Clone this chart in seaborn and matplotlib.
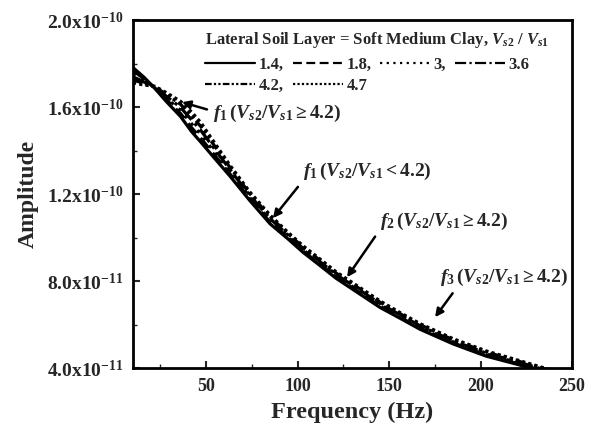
import matplotlib
matplotlib.use("Agg")
import matplotlib.pyplot as plt
from matplotlib.ticker import FuncFormatter, AutoMinorLocator
from matplotlib.lines import Line2D
import seaborn as sns
import numpy as np
import pandas as pd

# ---- data (amplitude in units of 1e-10) ----
freq = [10, 16, 22, 28, 36, 42, 47, 55, 63, 74, 85, 95, 103, 112, 121, 133, 145, 156, 167, 185, 203, 221, 231, 240]
amp_14 = [1.782, 1.738, 1.686, 1.628, 1.557, 1.488, 1.440, 1.361, 1.283, 1.169, 1.063, 0.992, 0.932, 0.873, 0.813, 0.746, 0.679, 0.629, 0.578, 0.511, 0.455, 0.415, 0.390, 0.368]
amp_18 = [1.768, 1.731, 1.688, 1.636, 1.571, 1.506, 1.458, 1.375, 1.293, 1.177, 1.071, 0.998, 0.938, 0.879, 0.819, 0.752, 0.685, 0.634, 0.583, 0.516, 0.460, 0.419, 0.394, 0.372]
amp_30 = [1.754, 1.724, 1.690, 1.644, 1.585, 1.524, 1.476, 1.389, 1.303, 1.185, 1.079, 1.004, 0.944, 0.885, 0.825, 0.758, 0.691, 0.639, 0.588, 0.521, 0.465, 0.423, 0.398, 0.376]
amp_36 = [1.740, 1.716, 1.692, 1.652, 1.599, 1.542, 1.494, 1.403, 1.313, 1.193, 1.087, 1.010, 0.950, 0.891, 0.831, 0.764, 0.697, 0.645, 0.594, 0.525, 0.469, 0.427, 0.402, 0.380]
amp_42 = [1.726, 1.709, 1.694, 1.660, 1.613, 1.560, 1.512, 1.417, 1.323, 1.201, 1.095, 1.016, 0.956, 0.897, 0.837, 0.770, 0.703, 0.650, 0.599, 0.530, 0.474, 0.431, 0.406, 0.384]
amp_47 = [1.712, 1.702, 1.696, 1.668, 1.627, 1.578, 1.530, 1.431, 1.333, 1.209, 1.103, 1.022, 0.962, 0.903, 0.843, 0.776, 0.709, 0.655, 0.604, 0.535, 0.479, 0.435, 0.410, 0.388]
series_labels = ["1.4,", "1.8,", "3,", "3.6", "4.2,", "4.7"]
y_ticks = [4e-11, 8e-11, 1.2e-10, 1.6e-10, 2.0e-10]
x_ticks = [50, 100, 150, 200, 250]

sns.set_theme(style="ticks")
plt.rcParams["font.family"] = ["Liberation Serif", "DejaVu Serif"]
plt.rcParams["font.weight"] = "bold"
plt.rcParams["mathtext.fontset"] = "custom"
plt.rcParams["mathtext.rm"] = "Liberation Serif:bold"
plt.rcParams["mathtext.it"] = "Liberation Serif:bold:italic"
plt.rcParams["mathtext.bf"] = "Liberation Serif:bold"

fig = plt.figure(figsize=(5.91, 4.30), dpi=100)
ax = fig.add_axes([0.225, 0.144, 0.743, 0.809])

styles = ["-", (0, (4, 2)), (0, (1, 2)), (0, (5, 1.5, 1, 1.5)), (0, (3, 1, 1, 1, 1, 1)), (0, (1, 1))]
all_amps = [amp_14, amp_18, amp_30, amp_36, amp_42, amp_47]
handles = []
for amps, lab, ls in zip(all_amps, series_labels, styles):
    df = pd.DataFrame({"f": freq, "a": np.array(amps) * 1e-10})
    sns.lineplot(data=df, x="f", y="a", ax=ax, color="black", linestyle=ls,
                 linewidth=2.3, sort=True, legend=False)
    handles.append(Line2D([], [], color="black", linestyle=ls, linewidth=1.6, label=lab))

ax.set_xlim(10, 250)
ax.set_ylim(4e-11, 2e-10)
ax.set_xticks(x_ticks)
ax.set_yticks(y_ticks)
ax.xaxis.set_minor_locator(AutoMinorLocator(2))
ax.yaxis.set_minor_locator(AutoMinorLocator(2))

def yfmt(v, pos):
    e = int(np.floor(np.log10(v) + 1e-9))
    m = v / 10 ** e
    return r"%.1fx10$^{%d}$" % (m, e)

ax.yaxis.set_major_formatter(FuncFormatter(yfmt))
ax.tick_params(axis="both", which="major", direction="in", length=5, width=1.5, pad=7)
ax.tick_params(axis="x", which="major", labelsize=13)
ax.tick_params(axis="y", which="major", labelsize=14)
ax.tick_params(axis="both", which="minor", direction="in", length=3, width=1.0)
for lab in ax.get_xticklabels() + ax.get_yticklabels():
    lab.set_fontweight("bold")
for s in ax.spines.values():
    s.set_linewidth(2)
    s.set_color("black")

ax.set_xlabel("Frequency (Hz)", fontsize=17.5, fontweight="bold", labelpad=5)
ax.set_ylabel("Amplitude", fontsize=17, fontweight="bold", labelpad=6)

order = [0, 4, 1, 5, 2, 3]
leg = ax.legend([handles[i] for i in order], [series_labels[i] for i in order],
                title=r"Lateral Soil Layer = Soft Medium Clay, $V_{s2}$ / $V_{s1}$",
                loc="upper left", bbox_to_anchor=(0.165, 0.972), ncol=4, frameon=False,
                fontsize=12, title_fontsize=12, handlelength=3.0, handletextpad=0.2,
                columnspacing=0.55, labelspacing=0.3, borderpad=0.0, borderaxespad=0.0)
leg._legend_box.align = "left"
leg._legend_box.sep = 5
leg.get_title().set_fontweight("bold")

ap = dict(arrowstyle="-|>", color="black", lw=1.8, mutation_scale=12, shrinkA=2, shrinkB=0)
ax.annotate(r"$f_1\,(V_{s2}/V_{s1}\geq 4.2)$", xy=(36.8, 1.623e-10), xytext=(53.7, 1.572e-10),
            ha="left", va="center", fontsize=14,
            arrowprops=dict(ap, relpos=(0, 0.6)))
ax.annotate(r"$f_1\,(V_{s2}/V_{s1}<4.2)$", xy=(86.5, 1.09e-10), xytext=(102.9, 1.306e-10),
            ha="left", va="center", fontsize=14,
            arrowprops=dict(ap, relpos=(0.02, 0.2)))
ax.annotate(r"$f_2\,(V_{s2}/V_{s1}\geq 4.2)$", xy=(127, 0.818e-10), xytext=(145, 1.076e-10),
            ha="left", va="center", fontsize=14,
            arrowprops=dict(ap, relpos=(0.0, 0.1)))
ax.annotate(r"$f_3\,(V_{s2}/V_{s1}\geq 4.2)$", xy=(175.1, 0.634e-10), xytext=(177.8, 0.818e-10),
            ha="left", va="center", fontsize=14,
            arrowprops=dict(ap, relpos=(0.13, 0.0)))

fig.savefig("out.png", dpi=100)
